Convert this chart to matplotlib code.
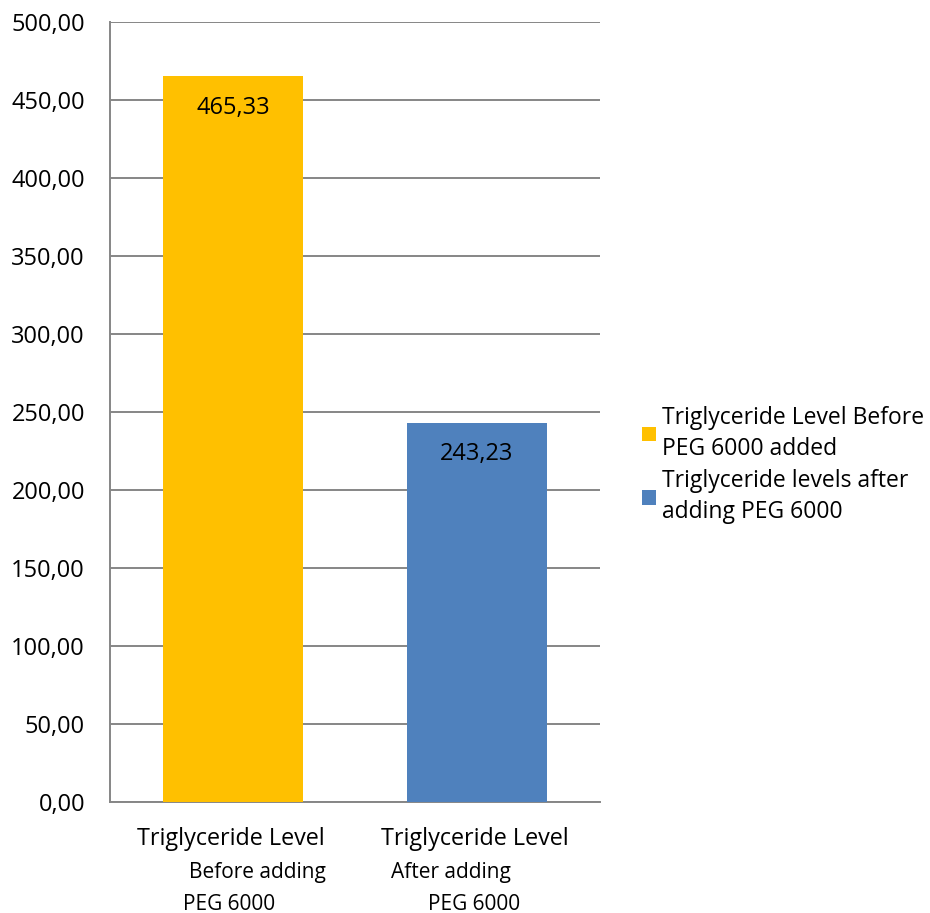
import matplotlib.pyplot as plt
from matplotlib.ticker import FuncFormatter

plt.rcParams['font.family'] = ['Open Sans', 'DejaVu Sans']

# data
categorias = ["Before", "After"]
valores = [465.33, 243.23]
cores = ["#FFC000", "#4F81BD"]
legenda = ["Triglyceride Level Before\nPEG 6000 added",
           "Triglyceride levels after\nadding PEG 6000"]
linha1 = ["Triglyceride Level", "Triglyceride Level"]
linha2 = ["Before adding", "After adding"]
linha3 = ["PEG 6000", "PEG 6000"]
yticks = [0, 50, 100, 150, 200, 250, 300, 350, 400, 450, 500]

fig = plt.figure(figsize=(9.3, 9.13), dpi=100)
ax = fig.add_axes([0.1183, 0.1216, 0.5269, 0.8543])

x = range(len(categorias))
barras = ax.bar(x, valores, width=0.574, color=cores, zorder=3)

ax.set_xlim(-0.504, 1.504)
ax.set_ylim(0, 500)
ax.set_yticks(yticks)
ax.yaxis.set_major_formatter(FuncFormatter(lambda v, p: f"{v:.2f}".replace(".", ",")))
ax.tick_params(axis='y', length=0, pad=18, labelsize=17)
ax.set_xticks([])
ax.grid(axis='y', color='#868686', linewidth=1.4, zorder=0)

for s in ['top', 'right']:
    ax.spines[s].set_visible(False)
for s in ['left', 'bottom']:
    ax.spines[s].set_color('#868686')
    ax.spines[s].set_linewidth(1.4)

# rotulos nas barras
for b, v in zip(barras, valores):
    ax.annotate(f"{v:.2f}".replace(".", ","), (b.get_x() + b.get_width() / 2, v),
                xytext=(0, -23), textcoords='offset points',
                ha='center', va='center', fontsize=17, zorder=4)

# rotulos do eixo x (alinhamento irregular como no original)
desloc2 = [0.10, -0.107]
desloc3 = [-0.016, -0.012]
for i in x:
    ax.annotate(linha1[i], (i - 0.01, 0), xycoords=('data', 'axes fraction'),
                xytext=(0, -27), textcoords='offset points',
                ha='center', va='center', fontsize=16.8, annotation_clip=False)
    ax.annotate(linha2[i], (i + desloc2[i], 0), xycoords=('data', 'axes fraction'),
                xytext=(0, -51), textcoords='offset points',
                ha='center', va='center', fontsize=15, annotation_clip=False)
    ax.annotate(linha3[i], (i + desloc3[i], 0), xycoords=('data', 'axes fraction'),
                xytext=(0, -73.5), textcoords='offset points',
                ha='center', va='center', fontsize=15, annotation_clip=False)

leg = fig.legend(handles=list(barras), labels=legenda, loc='center left',
                 bbox_to_anchor=(0.690, 0.491), frameon=False, fontsize=16.5,
                 handlelength=0.62, handleheight=0.62, handletextpad=0.28,
                 labelspacing=0.35, borderpad=0, borderaxespad=0)
for t in leg.get_texts():
    t.set_linespacing(1.4)

fig.savefig("out.png", dpi=100)
